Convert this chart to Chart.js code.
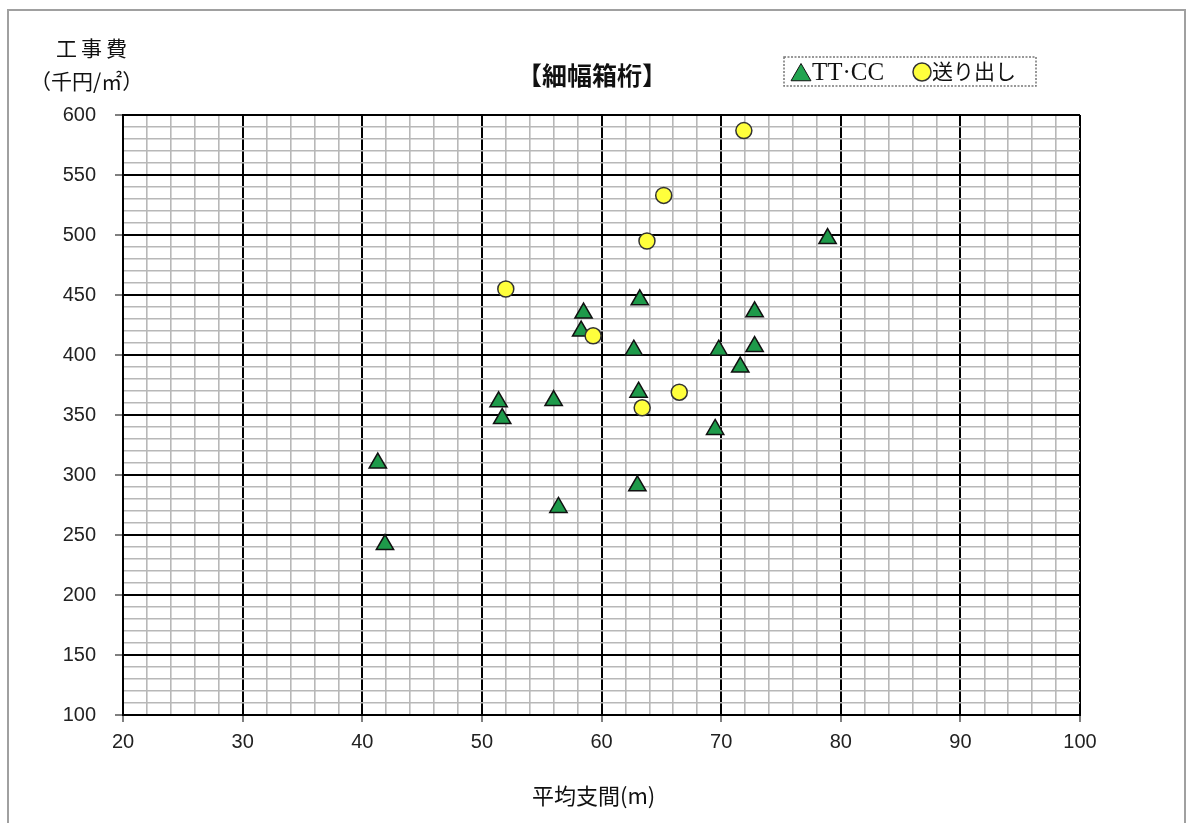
<!DOCTYPE html>
<html>
<head>
<meta charset="utf-8">
<script src="https://cdn.jsdelivr.net/npm/chart.js"></script>
<style>
  html, body { margin: 0; padding: 0; background: #fff; }
  #wrap { position: relative; width: 1186px; height: 823px; overflow: hidden; }
  #frame { position: absolute; left: 7px; top: 9px; width: 1179px; height: 830px; border: 2px solid #a0a0a0; box-sizing: border-box; }
  canvas { position: absolute; left: 0; top: 0; }
  .lbl { position: absolute; font-family: "Noto Sans CJK JP", sans-serif; color: #111; white-space: nowrap; line-height: 1; }
</style>
</head>
<body>
<div id="wrap">
  <div id="frame"></div>
  <canvas id="c" width="1186" height="823"></canvas>
  <div class="lbl" style="left:56px; top:37px; font-size:21px; letter-spacing:4px;">工事費</div>
  <div class="lbl" style="left:30px; top:70px; font-size:21px;">（千円/㎡）</div>
  <div class="lbl" style="left:517px; top:62px; font-size:25px; font-weight:bold;">【細幅箱桁】</div>
  <div class="lbl" style="left:532px; top:783px; font-size:22px;">平均支間(m)</div>
</div>
<script>
// ---- data ----
const seriesNames = ["TT·CC", "送り出し"];
const ttccSpan = [41.3, 41.9, 51.4, 51.7, 56.0, 56.4, 58.5, 58.3, 62.7, 63.2, 63.1, 63.0, 69.5, 69.8, 71.6, 72.8, 72.8, 78.9];
const ttccCost = [310, 242, 361, 347, 362, 273, 435, 420, 404, 446, 369, 291, 338, 404, 390, 436, 407, 497];
const okuriSpan = [52.0, 59.3, 63.4, 66.5, 63.8, 65.2, 71.9];
const okuriCost = [455, 416, 356, 369, 495, 533, 587];
const xTicks = [20, 30, 40, 50, 60, 70, 80, 90, 100];
const yTicks = [100, 150, 200, 250, 300, 350, 400, 450, 500, 550, 600];

const toPts = (xs, ys) => xs.map((x, i) => ({ x: x, y: ys[i] }));

const triStyle = { pointStyle: 'triangle', radius: 10, backgroundColor: '#1e9a4a', borderColor: '#111', borderWidth: 1.5 };
const cirStyle = { pointStyle: 'circle', radius: 8, backgroundColor: '#ffff3c', borderColor: '#333', borderWidth: 1.5 };

const legendPlugin = {
  id: 'customLegend',
  afterDraw(chart) {
    const ctx = chart.ctx;
    ctx.save();
    ctx.setLineDash([2, 1.5]);
    ctx.strokeStyle = '#777';
    ctx.lineWidth = 1.5;
    ctx.strokeRect(784, 57, 252, 29);
    ctx.setLineDash([]);
    const drawPt = (st, x, y) => {
      if (Chart.helpers && Chart.helpers.drawPoint) {
        ctx.fillStyle = st.backgroundColor;
        ctx.strokeStyle = st.borderColor;
        ctx.lineWidth = st.borderWidth;
        Chart.helpers.drawPoint(ctx, { pointStyle: st.pointStyle, radius: st.r, borderWidth: st.borderWidth, rotation: 0 }, x, y);
      }
    };
    drawPt(Object.assign({}, triStyle, { r: 11.5, borderWidth: 1, backgroundColor: '#22a450' }), 801, 75);
    drawPt(Object.assign({}, cirStyle, { r: 9 }), 922, 72);
    ctx.fillStyle = '#111';
    ctx.textBaseline = 'middle';
    ctx.textAlign = 'left';
    ctx.font = '25px "Liberation Serif", serif';
    ctx.fillText(seriesNames[0], 812, 73);
    ctx.font = '21px "Noto Sans CJK JP", sans-serif';
    ctx.fillText(seriesNames[1], 932, 71);
    ctx.restore();
  }
};

const majorX = v => xTicks.includes(v);
const majorY = v => yTicks.includes(v);

new Chart(document.getElementById('c'), {
  type: 'scatter',
  data: {
    datasets: [
      {
        label: seriesNames[1],
        data: toPts(okuriSpan, okuriCost),
        order: 0,
        pointStyle: cirStyle.pointStyle,
        pointRadius: cirStyle.radius,
        pointHoverRadius: cirStyle.radius,
        backgroundColor: cirStyle.backgroundColor,
        borderColor: cirStyle.borderColor,
        borderWidth: cirStyle.borderWidth
      },
      {
        label: seriesNames[0],
        data: toPts(ttccSpan, ttccCost),
        order: 1,
        pointStyle: triStyle.pointStyle,
        pointRadius: triStyle.radius,
        pointHoverRadius: triStyle.radius,
        backgroundColor: triStyle.backgroundColor,
        borderColor: triStyle.borderColor,
        borderWidth: triStyle.borderWidth
      }
    ]
  },
  options: {
    responsive: false,
    animation: false,
    devicePixelRatio: 1,
    layout: { padding: { left: 0, top: 115, right: 106, bottom: 0 } },
    plugins: { legend: { display: false }, tooltip: { enabled: false }, title: { display: false } },
    scales: {
      x: {
        type: 'linear',
        min: 20, max: 100,
        afterFit: s => { s.height = 108; },
        afterBuildTicks: s => { const t = []; for (let v = 20; v <= 100; v += 2) t.push({ value: v }); s.ticks = t; },
        ticks: {
          autoSkip: false, maxRotation: 0,
          padding: 8,
          color: '#222',
          font: { family: '"Liberation Sans", Arial, sans-serif', size: 20 },
          callback: v => majorX(v) ? String(v) : ''
        },
        grid: {
          color: c => majorX(c.tick.value) ? '#000' : '#b8b8b8',
          lineWidth: c => majorX(c.tick.value) ? 2 : 1.6,
          tickColor: c => majorX(c.tick.value) ? '#555' : 'rgba(0,0,0,0)',
          tickLength: 7,
          tickWidth: 1.5
        },
        border: { color: '#000', width: 2 }
      },
      y: {
        type: 'linear',
        min: 100, max: 600,
        afterFit: s => { s.width = 123; },
        afterBuildTicks: s => { const t = []; for (let v = 100; v <= 600; v += 10) t.push({ value: v }); s.ticks = t; },
        ticks: {
          autoSkip: false,
          padding: 19,
          color: '#222',
          font: { family: '"Liberation Sans", Arial, sans-serif', size: 20 },
          callback: v => majorY(v) ? String(v) : ''
        },
        grid: {
          color: c => majorY(c.tick.value) ? '#000' : '#b8b8b8',
          lineWidth: c => majorY(c.tick.value) ? 2 : 1.6,
          tickColor: c => majorY(c.tick.value) ? '#555' : 'rgba(0,0,0,0)',
          tickLength: 8,
          tickWidth: 1.5
        },
        border: { color: '#000', width: 2 }
      }
    }
  },
  plugins: [legendPlugin]
});
</script>
</body>
</html>
